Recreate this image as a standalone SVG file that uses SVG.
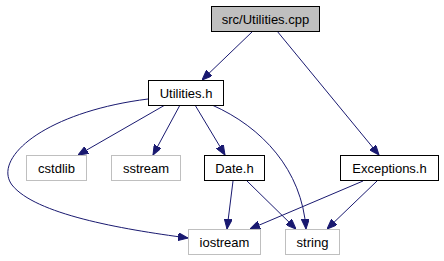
<svg xmlns="http://www.w3.org/2000/svg" width="444" height="261" viewBox="0 0 444 261">
  <style>
    .box { fill: #ffffff; stroke: #000000; stroke-width: 1; }
    .root { fill: #bfbfbf; stroke: #000000; stroke-width: 1; }
    .sys { fill: #ffffff; stroke: #bfbfbf; stroke-width: 1; }
    .lbl { font-family: "Liberation Sans", Arial, sans-serif; font-size: 13px; fill: #000000; text-anchor: middle; }
    .edge { fill: none; stroke: #191970; stroke-width: 1; }
  </style>
  <defs>
    <marker id="arrow" viewBox="0 0 10 8" refX="10" refY="4" markerWidth="10" markerHeight="8" markerUnits="userSpaceOnUse" orient="auto">
      <path d="M0,0 L10,4 L0,8 Z" fill="#191970" stroke="#191970"/>
    </marker>
  </defs>
  <rect width="444" height="261" fill="#ffffff"/>

  <!-- include edges -->
  <g id="edges">
    <path class="edge" marker-end="url(#arrow)" d="M253,31 L202,80"/>
    <path class="edge" marker-end="url(#arrow)" d="M277,31 L379,155"/>
    <path class="edge" marker-end="url(#arrow)" d="M148,99 C45,112 -8,158 12,185 C35,214 120,229 188,238"/>
    <path class="edge" marker-end="url(#arrow)" d="M165,105 L78,155"/>
    <path class="edge" marker-end="url(#arrow)" d="M180,105 L153,155"/>
    <path class="edge" marker-end="url(#arrow)" d="M195,105 L225,155"/>
    <path class="edge" marker-end="url(#arrow)" d="M212,105 C262,127 302,170 306,229"/>
    <path class="edge" marker-end="url(#arrow)" d="M233,181 L227,229"/>
    <path class="edge" marker-end="url(#arrow)" d="M247,181 L296,229"/>
    <path class="edge" marker-end="url(#arrow)" d="M363,181 L250,229"/>
    <path class="edge" marker-end="url(#arrow)" d="M377,181 L327,229"/>
  </g>

  <g id="node-utilities-cpp">
    <rect class="root" x="211.5" y="6.5" width="108" height="25"/>
    <text class="lbl" x="265.5" y="23.5">src/Utilities.cpp</text>
  </g>
  <g id="node-utilities-h">
    <rect class="box" x="148.5" y="80.5" width="75" height="25"/>
    <text class="lbl" x="186" y="97.5">Utilities.h</text>
  </g>
  <g id="node-cstdlib">
    <rect class="sys" x="26.5" y="155.5" width="60" height="25"/>
    <text class="lbl" x="56.5" y="172.5">cstdlib</text>
  </g>
  <g id="node-sstream">
    <rect class="sys" x="111.5" y="155.5" width="69" height="25"/>
    <text class="lbl" x="146" y="172.5">sstream</text>
  </g>
  <g id="node-date-h">
    <rect class="box" x="204.5" y="155.5" width="60" height="25"/>
    <text class="lbl" x="234.5" y="172.5">Date.h</text>
  </g>
  <g id="node-exceptions-h">
    <rect class="box" x="340.5" y="155.5" width="98" height="25"/>
    <text class="lbl" x="389.5" y="172.5">Exceptions.h</text>
  </g>
  <g id="node-iostream">
    <rect class="sys" x="188.5" y="229.5" width="72" height="25"/>
    <text class="lbl" x="224.5" y="246.5">iostream</text>
  </g>
  <g id="node-string">
    <rect class="sys" x="285.5" y="229.5" width="54" height="25"/>
    <text class="lbl" x="312.5" y="246.5">string</text>
  </g>
</svg>
